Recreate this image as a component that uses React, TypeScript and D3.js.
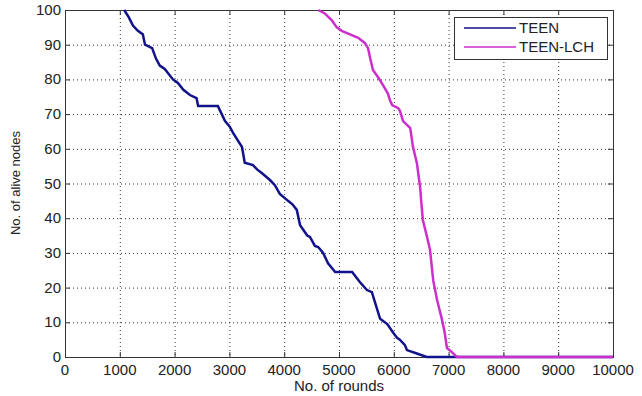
import { useEffect, useRef } from "react";
import * as d3 from "d3";

// rounds / alive nodes
const teenRounds = [1080, 1160, 1240, 1330, 1420, 1460, 1590, 1660, 1730, 1820, 1970, 2060, 2160, 2280, 2400, 2430, 2790, 2860, 2920, 3000, 3070, 3130, 3230, 3280, 3430, 3510, 3590, 3740, 3830, 3920, 4070, 4150, 4230, 4290, 4420, 4470, 4560, 4620, 4710, 4800, 4930, 5240, 5380, 5510, 5600, 5660, 5750, 5880, 5990, 6060, 6110, 6200, 6240, 6420, 6600, 10000];
const teenNodes = [100, 98, 95.5, 94, 93, 90, 89, 86, 84, 83, 80, 79, 77, 75.5, 74.6, 72.3, 72.3, 70, 68, 66.5, 64.5, 63, 60.5, 56, 55.3, 54, 53, 51, 49.5, 47, 45, 44, 42.4, 38, 35, 34.6, 32, 31.7, 30, 27, 24.5, 24.5, 21.6, 19.3, 18.7, 15.6, 11, 9.5, 7, 5.5, 5, 3.5, 2, 1, 0, 0];

const lchRounds = [4620, 4740, 4870, 4960, 5050, 5200, 5350, 5470, 5530, 5570, 5620, 5710, 5800, 5890, 5930, 5970, 6080, 6110, 6170, 6300, 6350, 6420, 6480, 6500, 6530, 6600, 6660, 6720, 6790, 6880, 6930, 6970, 7060, 7150, 10000];
const lchNodes = [100, 99, 97, 95, 94, 93, 92, 90.5, 89, 86, 82.7, 80.7, 78.4, 76, 74, 72.6, 71.7, 71, 68, 66, 60.5, 56, 49, 45, 39.5, 35, 31, 22, 16.4, 10.7, 6.9, 2.6, 1.4, 0, 0];

const xTicks = [0, 1000, 2000, 3000, 4000, 5000, 6000, 7000, 8000, 9000, 10000];
const yTicks = [0, 10, 20, 30, 40, 50, 60, 70, 80, 90, 100];

const seriesNames = ["TEEN", "TEEN-LCH"];
const seriesColors = ["#12128c", "#cc2fcc"];

const App = () => {
  const svgRef = useRef<SVGSVGElement>(null);

  useEffect(() => {
    const width = 642;
    const height = 396;
    const left = 65, right = 613, top = 10, bottom = 357;

    const svg = d3.select(svgRef.current);
    svg.selectAll("*").remove();

    const x = d3.scaleLinear().domain([0, 10000]).range([left, right]);
    const y = d3.scaleLinear().domain([0, 100]).range([bottom, top]);

    svg.append("rect").attr("width", width).attr("height", height).attr("fill", "#fff");

    // dotted grid
    const grid = svg.append("g").attr("stroke", "#333").attr("stroke-width", 1).attr("stroke-dasharray", "1,3");
    grid.selectAll("line.v")
      .data(xTicks.slice(1, -1))
      .enter()
      .append("line")
      .attr("x1", (d) => x(d) + 0.5)
      .attr("x2", (d) => x(d) + 0.5)
      .attr("y1", top)
      .attr("y2", bottom);
    grid.selectAll("line.h")
      .data(yTicks.slice(1, -1))
      .enter()
      .append("line")
      .attr("y1", (d) => y(d) + 0.5)
      .attr("y2", (d) => y(d) + 0.5)
      .attr("x1", left)
      .attr("x2", right);

    // box + inward ticks
    const axes = svg.append("g").attr("stroke", "#333").attr("stroke-width", 1).attr("fill", "none");
    axes.append("rect")
      .attr("x", left + 0.5)
      .attr("y", top + 0.5)
      .attr("width", right - left)
      .attr("height", bottom - top);
    xTicks.forEach((t) => {
      axes.append("line").attr("x1", x(t) + 0.5).attr("x2", x(t) + 0.5).attr("y1", bottom).attr("y2", bottom - 5);
      axes.append("line").attr("x1", x(t) + 0.5).attr("x2", x(t) + 0.5).attr("y1", top).attr("y2", top + 5);
    });
    yTicks.forEach((t) => {
      axes.append("line").attr("y1", y(t) + 0.5).attr("y2", y(t) + 0.5).attr("x1", left).attr("x2", left + 5);
      axes.append("line").attr("y1", y(t) + 0.5).attr("y2", y(t) + 0.5).attr("x1", right).attr("x2", right - 5);
    });

    const font = "'Liberation Sans', Arial, sans-serif";

    svg.append("g")
      .selectAll("text")
      .data(xTicks)
      .enter()
      .append("text")
      .attr("x", (d) => x(d))
      .attr("y", 375)
      .attr("text-anchor", "middle")
      .attr("font-family", font)
      .attr("font-size", 15)
      .attr("fill", "#222")
      .text((d) => d);

    svg.append("g")
      .selectAll("text")
      .data(yTicks)
      .enter()
      .append("text")
      .attr("x", 61)
      .attr("y", (d) => y(d) + 5)
      .attr("text-anchor", "end")
      .attr("font-family", font)
      .attr("font-size", 15)
      .attr("fill", "#222")
      .text((d) => d);

    svg.append("text")
      .attr("x", (left + right) / 2)
      .attr("y", 391)
      .attr("text-anchor", "middle")
      .attr("font-family", font)
      .attr("font-size", 15)
      .attr("fill", "#222")
      .text("No. of rounds");

    svg.append("text")
      .attr("transform", `translate(20, 183) rotate(-90)`)
      .attr("text-anchor", "middle")
      .attr("font-family", font)
      .attr("font-size", 13)
      .attr("fill", "#222")
      .text("No. of alive nodes");

    // lines
    const line = d3.line<[number, number]>()
      .x((d) => x(d[0]))
      .y((d) => y(d[1]));

    const series: [number, number][][] = [
      teenRounds.map((r, i) => [r, teenNodes[i]]),
      lchRounds.map((r, i) => [r, lchNodes[i]]),
    ];

    series.forEach((pts, i) => {
      svg.append("path")
        .attr("d", line(pts))
        .attr("fill", "none")
        .attr("stroke", seriesColors[i])
        .attr("stroke-width", 2.5)
        .attr("stroke-linejoin", "miter");
    });

    // legend
    const lg = svg.append("g");
    lg.append("rect")
      .attr("x", 454.5)
      .attr("y", 17.5)
      .attr("width", 153)
      .attr("height", 42)
      .attr("fill", "#fff")
      .attr("stroke", "#333");
    seriesNames.forEach((name, i) => {
      const ly = 28 + i * 19;
      lg.append("line")
        .attr("x1", 464)
        .attr("x2", 516)
        .attr("y1", ly)
        .attr("y2", ly)
        .attr("stroke", seriesColors[i])
        .attr("stroke-width", 1.5);
      lg.append("text")
        .attr("x", 519)
        .attr("y", ly + 5)
        .attr("font-family", font)
        .attr("font-size", 15)
        .attr("fill", "#222")
        .text(name);
    });
  }, []);

  return (
    <svg
      ref={svgRef}
      width="642"
      height="396"
      style={{ position: "absolute", left: 0, top: 0 }}
    ></svg>
  );
};

export default App;
